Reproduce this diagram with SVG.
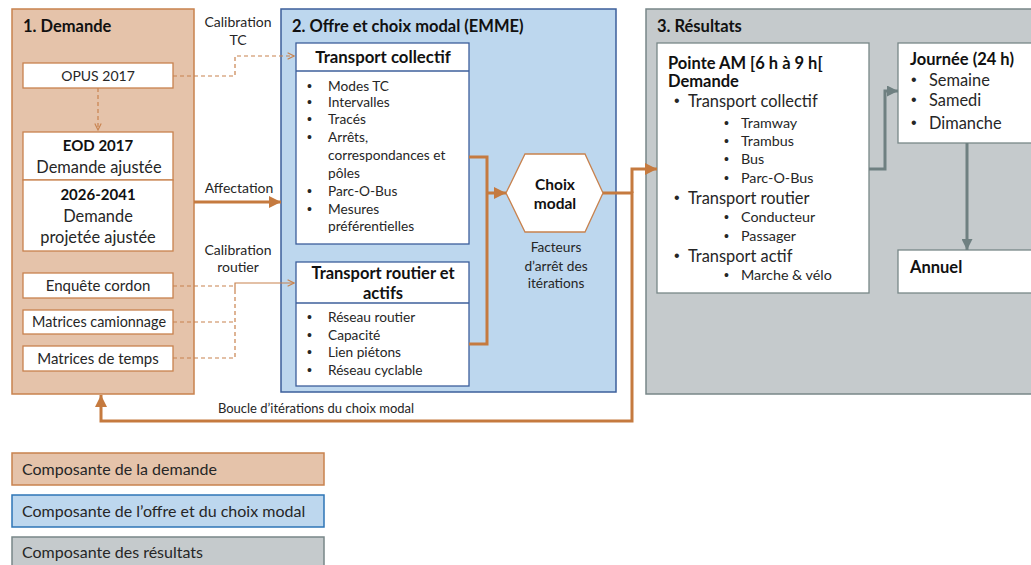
<svg xmlns="http://www.w3.org/2000/svg" width="1031" height="565" viewBox="0 0 1031 565">
<defs>
<style>
text{font-family:Lato,"Liberation Sans",sans-serif;fill:#262626}
.b{font-weight:bold;fill:#111}
.t{font-size:16.5px;font-weight:bold;fill:#111}
.s13{font-size:13.7px}
.s14{font-size:14px}
.s15{font-size:15px}
.s16{font-size:16px}
.l1{font-size:16.4px}
.l2{font-size:14.3px}
.c{text-anchor:middle}
.bu{font-family:"Liberation Sans",sans-serif;font-size:14px}
.bu1{font-family:"Liberation Sans",sans-serif;font-size:16px}
.p1{fill:#e5c3aa;stroke:#c8824e;stroke-width:1.5}
.p2{fill:#bdd7ee;stroke:#3c5f9b;stroke-width:1.5}
.p3{fill:#c5cacc;stroke:#788788;stroke-width:1.5}
.ob{fill:#fff;stroke:#c8824e;stroke-width:1.3}
.bb{fill:#fff;stroke:#3c5f9b;stroke-width:1.3}
.gb{fill:#fff;stroke:#788788;stroke-width:1.3}
.dash{fill:none;stroke:#c8824e;stroke-width:1.2;stroke-dasharray:4 3}
.thin{fill:none;stroke:#c8824e;stroke-width:1.2}
.thick{fill:none;stroke:#c57a3f;stroke-width:3}
.gray{fill:none;stroke:#6f8081;stroke-width:3}
</style>
<marker id="chev" viewBox="0 0 10 10" refX="9" refY="5" markerWidth="8" markerHeight="8" markerUnits="userSpaceOnUse" orient="auto">
<path d="M1,1 L9,5 L1,9" fill="none" stroke="#c8824e" stroke-width="1.4"/>
</marker>
<marker id="oarr" viewBox="0 0 10 10" refX="10" refY="5" markerWidth="12" markerHeight="12" markerUnits="userSpaceOnUse" orient="auto">
<path d="M0,0 L10,5 L0,10 Z" fill="#c57a3f"/>
</marker>
<marker id="garr" viewBox="0 0 10 10" refX="10" refY="5" markerWidth="11" markerHeight="11" markerUnits="userSpaceOnUse" orient="auto">
<path d="M0,0 L10,5 L0,10 Z" fill="#6f8081"/>
</marker>
</defs>

<g id="panel-demande">
<rect class="p1" x="12" y="9" width="182" height="385"/>
<text class="t" x="23" y="32">1. Demande</text>
</g>
<g id="node-opus">
<rect class="ob" x="23" y="63" width="150" height="25"/>
<text class="s14 c" x="98" y="81">OPUS 2017</text>
</g>
<g id="node-eod">
<rect class="ob" x="23" y="132" width="150" height="48"/>
<text class="b s15 c" x="98" y="151">EOD 2017</text>
<text class="c" style="font-size:16.4px" x="99" y="173">Demande ajustée</text>
</g>
<g id="node-2026">
<rect class="ob" x="23" y="180" width="150" height="71"/>
<text class="b s15 c" x="98" y="200">2026-2041</text>
<text class="c" style="font-size:16.4px" x="98" y="222">Demande</text>
<text class="c" style="font-size:16.4px" x="98" y="243">projetée ajustée</text>
</g>
<g id="node-cordon">
<rect class="ob" x="23" y="273" width="150" height="25"/>
<text class="s15 c" x="98" y="291">Enquête cordon</text>
</g>
<g id="node-camion">
<rect class="ob" x="23" y="310" width="150" height="24"/>
<text class="c" style="font-size:14.4px" x="99" y="327">Matrices camionnage</text>
</g>
<g id="node-temps">
<rect class="ob" x="23" y="346" width="150" height="25"/>
<text class="s15 c" x="98" y="364">Matrices de temps</text>
</g>

<g id="panel-offre">
<rect class="p2" x="281" y="9" width="335" height="383"/>
<text class="t" x="292" y="32">2. Offre et choix modal (EMME)</text>
</g>
<g id="node-tc">
<rect class="bb" x="296" y="43" width="173" height="201"/>
<line x1="296" y1="71" x2="469" y2="71" stroke="#3c5f9b" stroke-width="1.3"/>
<text class="b c" style="font-size:16.8px" x="383" y="63">Transport collectif</text>
<g class="s13">
<text class="bu" x="307" y="91">•</text><text x="328" y="91">Modes TC</text>
<text class="bu" x="307" y="107">•</text><text x="328" y="107">Intervalles</text>
<text class="bu" x="307" y="124">•</text><text x="328" y="124">Tracés</text>
<text class="bu" x="307" y="142">•</text><text x="328" y="142">Arrêts,</text>
<text x="328" y="160">correspondances et</text>
<text x="328" y="178">pôles</text>
<text class="bu" x="307" y="196">•</text><text x="328" y="196">Parc-O-Bus</text>
<text class="bu" x="307" y="214">•</text><text x="328" y="214">Mesures</text>
<text x="328" y="231">préférentielles</text>
</g>
</g>
<g id="node-routier">
<rect class="bb" x="296" y="262" width="173" height="124"/>
<line x1="296" y1="303" x2="469" y2="303" stroke="#3c5f9b" stroke-width="1.3"/>
<text class="b c" style="font-size:16.5px" x="383" y="279">Transport routier et</text>
<text class="b c" style="font-size:16.5px" x="383" y="299">actifs</text>
<g class="s13">
<text class="bu" x="307" y="322">•</text><text x="328" y="322">Réseau routier</text>
<text class="bu" x="307" y="340">•</text><text x="328" y="340">Capacité</text>
<text class="bu" x="307" y="357">•</text><text x="328" y="357">Lien piétons</text>
<text class="bu" x="307" y="375">•</text><text x="328" y="375">Réseau cyclable</text>
</g>
</g>
<g id="node-choix">
<polygon points="506,193 525,154 585,154 603,193 585,232 525,232" fill="#fff" stroke="#c8824e" stroke-width="1.3"/>
<text class="b c" style="font-size:15.5px" x="555" y="190">Choix</text>
<text class="b c" style="font-size:15.5px" x="555" y="209">modal</text>
</g>
<g id="label-facteurs" class="s13">
<text class="c" x="556" y="252">Facteurs</text>
<text class="c" x="556" y="271">d’arrêt des</text>
<text class="c" x="556" y="288">itérations</text>
</g>

<g id="panel-resultats">
<rect class="p3" x="646" y="9" width="395" height="385"/>
<text class="t" x="657" y="32">3. Résultats</text>
</g>
<g id="node-pointe">
<rect class="gb" x="657" y="43" width="212" height="250"/>
<text class="t" x="668" y="69">Pointe AM [6 h à 9 h[</text>
<text class="t" x="668" y="87">Demande</text>
<g class="l1">
<text class="bu1" x="674" y="106">•</text><text x="688" y="107">Transport collectif</text>
<text class="bu1" x="674" y="203">•</text><text x="688" y="204">Transport routier</text>
<text class="bu1" x="674" y="261">•</text><text x="688" y="262">Transport actif</text>
</g>
<g class="l2">
<text class="bu" x="724" y="128">•</text><text x="741" y="128">Tramway</text>
<text class="bu" x="724" y="146">•</text><text x="741" y="146">Trambus</text>
<text class="bu" x="724" y="164">•</text><text x="741" y="164">Bus</text>
<text class="bu" x="724" y="183">•</text><text x="741" y="183">Parc-O-Bus</text>
<text class="bu" x="724" y="222">•</text><text x="741" y="222">Conducteur</text>
<text class="bu" x="724" y="241">•</text><text x="741" y="241">Passager</text>
<text class="bu" x="724" y="280">•</text><text x="741" y="280">Marche &amp; vélo</text>
</g>
</g>
<g id="node-journee">
<rect class="gb" x="898" y="43" width="145" height="100"/>
<text class="t" x="910" y="65">Journée (24 h)</text>
<g class="l1">
<text class="bu1" x="911" y="85">•</text><text x="929" y="86">Semaine</text>
<text class="bu1" x="911" y="105">•</text><text x="929" y="106">Samedi</text>
<text class="bu1" x="911" y="128">•</text><text x="929" y="129">Dimanche</text>
</g>
</g>
<g id="node-annuel">
<rect class="gb" x="898" y="250" width="145" height="43"/>
<text class="t" x="910" y="273">Annuel</text>
</g>

<g id="connectors">
<path class="dash" d="M98,88 V130" marker-end="url(#chev)"/>
<path class="dash" d="M173,76 H235 V56 H294" marker-end="url(#chev)"/>
<path class="dash" d="M173,286 H235"/>
<path class="dash" d="M173,322 H235"/>
<path class="dash" d="M173,358 H235 V290"/>
<path class="thin" d="M235,290 V283 H294" marker-end="url(#chev)"/>
<path class="thick" d="M194,202 H281" marker-end="url(#oarr)"/>
<path class="thick" d="M469,157 H487 V344 H469"/>
<path class="thick" d="M487,193 H506" marker-end="url(#oarr)"/>
<path class="thick" d="M603,193 H632 V421 H101 V395" marker-end="url(#oarr)"/>
<path class="thick" d="M632,193 V169 H657" marker-end="url(#oarr)"/>
<path class="gray" d="M869,169 H885 V91 H898" marker-end="url(#garr)"/>
<path class="gray" d="M967,143 V250" marker-end="url(#garr)"/>
<g class="s14">
<text class="c" x="238" y="27">Calibration</text>
<text class="c" x="238" y="45">TC</text>
<text class="c" x="239" y="193">Affectation</text>
<text class="c" x="238" y="255">Calibration</text>
<text class="c" x="238" y="272">routier</text>
</g>
<text class="c" style="font-size:13px" x="316" y="413">Boucle d’itérations du choix modal</text>
</g>

<g id="legend">
<rect class="p1" x="12" y="453" width="312" height="32"/>
<text class="s16" x="22" y="475">Composante de la demande</text>
<rect fill="#bdd7ee" stroke="#2e75b6" stroke-width="1.5" x="12" y="495" width="312" height="32"/>
<text class="s16" x="22" y="517">Composante de l’offre et du choix modal</text>
<rect class="p3" x="12" y="537" width="312" height="40"/>
<text class="s16" x="22" y="558">Composante des résultats</text>
</g>
</svg>
